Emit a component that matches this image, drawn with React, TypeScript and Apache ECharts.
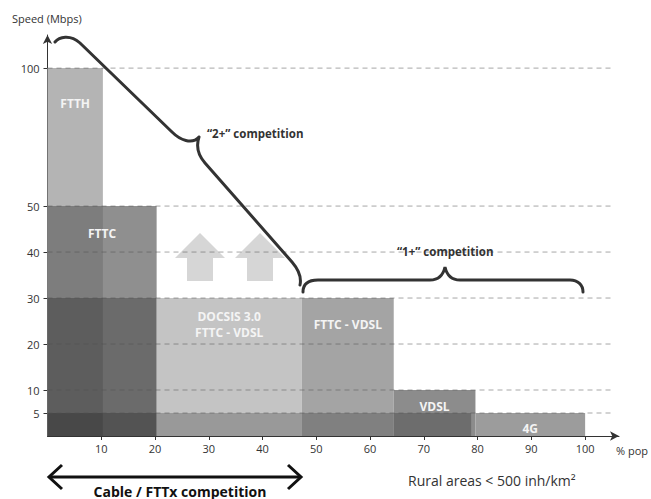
import React, { useEffect, useRef } from 'react';
import * as echarts from 'echarts';

// Technology segments: population coverage range (% pop) and speed (Mbps)
const techNames = ['FTTH', 'FTTC', 'DOCSIS 3.0\nFTTC - VDSL', 'FTTC - VDSL', 'VDSL', '4G'];
const techFrom = [0, 0, 20.3, 47.3, 64.4, 79.6];
const techTo = [10.3, 20.3, 47.3, 64.4, 79.6, 100];
const techSpeed = [100, 50, 30, 30, 10, 5];

// Overlapping coverage bands (darker shading)
const bandFrom = [0, 0, 0];
const bandTo = [10.3, 20.3, 78.8];
const bandSpeed = [50, 30, 5];

// Axis ticks
const speedTicks = [5, 10, 20, 30, 40, 50, 100];
const popTicks = [10, 20, 30, 40, 50, 60, 70, 80, 90, 100];

// Piecewise speed scale: linear up to 50, compressed above
const toAxis = (s: number) => (s <= 50 ? s : 50 + (s - 50) * 0.6);
const fromAxis = (v: number) => (v <= 50 ? v : 50 + (v - 50) / 0.6);

const techColors = ['#b4b4b4', '#8f8f8f', '#c4c4c4', '#a4a4a4', '#8c8c8c', '#9c9c9c'];
const labelDy = [35, 27, 26, 26, 16, 15];
const bandAlpha = [0.12, 0.25, 0.22];

const FONT = '"Open Sans", "Noto Sans", sans-serif';

echarts.graphic.registerShape(
  'brace2',
  echarts.graphic.extendPath(
    'M55,42 C59,37 70,34 80,43 L172,132 C180,140 192,145 199,137 M199,137 C196,146 198,155 205,163 L292,262 C298,269 302,276 300,285',
    {}
  )
);
echarts.graphic.registerShape(
  'brace1',
  echarts.graphic.extendPath(
    'M303,292 C303,284 308,280 318,280 L430,280 C438,280 443,276 445,267 C447,276 452,280 460,280 L570,280 C578,280 583,285 583,292',
    {}
  )
);

export default function App() {
  const ref = useRef<HTMLDivElement>(null);
  useEffect(() => {
    if (!ref.current) return;
    const chart = echarts.init(ref.current, undefined, { renderer: 'svg' });
    const xMaxGrid = 104.8;
    const option: any = {
      animation: false,
      textStyle: { fontFamily: FONT },
      grid: { left: 47.5, right: 32, top: 35, bottom: 63 },
      xAxis: {
        type: 'value',
        min: 0,
        max: 106.3,
        axisLine: {
          show: true,
          symbol: ['none', 'arrow'],
          symbolSize: [7, 9],
          lineStyle: { color: '#333', width: 1 },
        },
        axisTick: { show: true, customValues: popTicks, length: 4, lineStyle: { color: '#333' } },
        axisLabel: { customValues: popTicks, color: '#333', fontSize: 11, margin: 7, fontFamily: FONT },
        splitLine: { show: false },
      },
      yAxis: {
        type: 'value',
        min: 0,
        max: 87.2,
        axisLine: {
          show: true,
          symbol: ['none', 'arrow'],
          symbolSize: [7, 9],
          lineStyle: { color: '#333', width: 1 },
        },
        axisTick: { show: true, customValues: speedTicks.map(toAxis), length: 4, lineStyle: { color: '#333' } },
        axisLabel: {
          customValues: speedTicks.map(toAxis),
          color: '#333',
          fontSize: 11,
          margin: 8,
          fontFamily: FONT,
          formatter: (v: number) => String(Math.round(fromAxis(v))),
        },
        splitLine: { show: false },
      },
      series: [
        {
          type: 'custom',
          name: 'tech',
          z: 2,
          data: techFrom.map((f, i) => [f, techTo[i], toAxis(techSpeed[i])]),
          renderItem: (params: any, api: any) => {
            const i = params.dataIndex;
            const tl = api.coord([api.value(0), api.value(2)]);
            const br = api.coord([api.value(1), 0]);
            return {
              type: 'rect',
              shape: { x: tl[0], y: tl[1], width: br[0] - tl[0], height: br[1] - tl[1] },
              style: { fill: techColors[i] },
            };
          },
        },
        {
          type: 'custom',
          name: 'bands',
          z: 3,
          data: bandFrom.map((f, i) => [f, bandTo[i], toAxis(bandSpeed[i])]),
          renderItem: (params: any, api: any) => {
            const i = params.dataIndex;
            const tl = api.coord([api.value(0), api.value(2)]);
            const br = api.coord([api.value(1), 0]);
            return {
              type: 'rect',
              shape: { x: tl[0], y: tl[1], width: br[0] - tl[0], height: br[1] - tl[1] },
              style: { fill: `rgba(0,0,0,${bandAlpha[i]})` },
            };
          },
        },
        {
          type: 'custom',
          name: 'grid',
          z: 4,
          data: speedTicks.map((s) => [toAxis(s)]),
          renderItem: (params: any, api: any) => {
            const a = api.coord([0, api.value(0)]);
            const b = api.coord([xMaxGrid, api.value(0)]);
            return {
              type: 'line',
              shape: { x1: a[0], y1: a[1], x2: b[0], y2: b[1] },
              style: { stroke: 'rgba(80,80,80,0.5)', lineWidth: 1, lineDash: [5, 4] },
            };
          },
        },
        {
          type: 'custom',
          name: 'labels',
          z: 5,
          data: techFrom.map((f, i) => [f, techTo[i], toAxis(techSpeed[i])]),
          renderItem: (params: any, api: any) => {
            const i = params.dataIndex;
            const tl = api.coord([api.value(0), api.value(2)]);
            const br = api.coord([api.value(1), 0]);
            return {
              type: 'text',
              x: (tl[0] + br[0]) / 2,
              y: tl[1] + labelDy[i],
              style: {
                text: techNames[i],
                fill: '#f4f4f4',
                font: `bold 12px ${FONT}`,
                align: 'center',
                verticalAlign: 'middle',
                lineHeight: 16,
              },
            };
          },
        },
      ],
      graphic: [
        {
          type: 'polygon',
          z: 1,
          shape: { points: [[200, 233], [225, 258], [213, 258], [213, 281], [187, 281], [187, 258], [175, 258]] },
          style: { fill: '#d6d6d6' },
        },
        {
          type: 'polygon',
          z: 1,
          shape: { points: [[260, 233], [285, 258], [273, 258], [273, 281], [247, 281], [247, 258], [235, 258]] },
          style: { fill: '#d6d6d6' },
        },
        { type: 'brace2', z: 10, x: 0, y: 0, style: { stroke: '#333', lineWidth: 3, fill: 'none', lineCap: 'round' } },
        { type: 'brace1', z: 10, x: 0, y: 0, style: { stroke: '#333', lineWidth: 3, fill: 'none', lineCap: 'round' } },
        {
          type: 'line',
          z: 10,
          shape: { x1: 50, y1: 477, x2: 300, y2: 477 },
          style: { stroke: '#111', lineWidth: 3 },
        },
        {
          type: 'polyline',
          z: 10,
          shape: { points: [[62, 465], [49, 477], [62, 489]] },
          style: { stroke: '#111', lineWidth: 3, fill: 'none' },
        },
        {
          type: 'polyline',
          z: 10,
          shape: { points: [[288, 465], [301, 477], [288, 489]] },
          style: { stroke: '#111', lineWidth: 3, fill: 'none' },
        },
        {
          type: 'text',
          z: 10,
          x: 12,
          y: 18,
          style: { text: 'Speed (Mbps)', fill: '#333', font: `11px ${FONT}`, verticalAlign: 'middle' },
        },
        {
          type: 'text',
          z: 10,
          x: 207,
          y: 133,
          style: { text: '“2+” competition', fill: '#333', font: `bold 11.5px ${FONT}`, verticalAlign: 'middle' },
        },
        {
          type: 'text',
          z: 10,
          x: 397,
          y: 251,
          style: { text: '“1+” competition', fill: '#333', font: `bold 11.5px ${FONT}`, verticalAlign: 'middle' },
        },
        {
          type: 'text',
          z: 10,
          x: 616,
          y: 450,
          style: { text: '% pop', fill: '#333', font: `11px ${FONT}`, verticalAlign: 'middle' },
        },
        {
          type: 'text',
          z: 10,
          x: 408,
          y: 480,
          style: { text: 'Rural areas < 500 inh/km²', fill: '#333', font: `14px ${FONT}`, verticalAlign: 'middle' },
        },
        {
          type: 'text',
          z: 10,
          x: 180,
          y: 498,
          style: {
            text: 'Cable / FTTx competition',
            fill: '#111',
            font: `bold 14px ${FONT}`,
            align: 'center',
            verticalAlign: 'bottom',
          },
        },
      ],
    };
    chart.setOption(option);
    return () => chart.dispose();
  }, []);
  return <div ref={ref} style={{ position: 'absolute', left: 0, top: 0, width: 651, height: 499 }} />;
}
